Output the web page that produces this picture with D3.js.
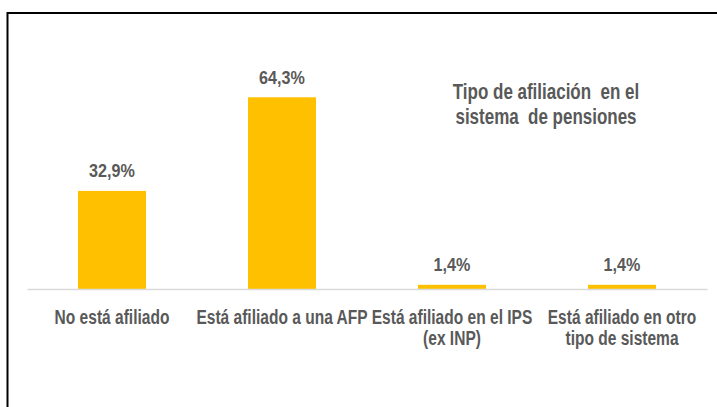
<!DOCTYPE html>
<html>
<head>
<meta charset="utf-8">
<script src="https://cdn.jsdelivr.net/npm/d3@7"></script>
<style>
  html, body { margin: 0; padding: 0; background: #fff; }
  svg text { font-family: "Liberation Sans", Arial, sans-serif; font-weight: bold; fill: #595959; white-space: pre; }
</style>
</head>
<body>
<svg id="chart" width="717" height="407"></svg>
<script>
const categories = ["No está afiliado", "Está afiliado a una AFP", "Está afiliado en el IPS\n(ex INP)", "Está afiliado en otro\ntipo de sistema"];
const values = [32.9, 64.3, 1.4, 1.4];
const valueLabels = ["32,9%", "64,3%", "1,4%", "1,4%"];
const titleLines = ["Tipo de afiliación  en el", "sistema  de pensiones"];

const svg = d3.select("#chart");

// frame
svg.append("rect").attr("x", 7.5).attr("y", 13).attr("width", 730).attr("height", 420)
  .attr("fill", "none").attr("stroke", "#000").attr("stroke-width", 2);

const x = d3.scaleBand().domain(categories).range([27, 707]).paddingInner(0.6).paddingOuter(0.3);
const y = d3.scaleLinear().domain([0, 70]).range([289, 80.3]);

svg.selectAll("rect.bar").data(values).enter().append("rect")
  .attr("class", "bar")
  .attr("x", (d, i) => x(categories[i]))
  .attr("width", x.bandwidth())
  .attr("y", d => y(d))
  .attr("height", d => y(0) - y(d))
  .attr("fill", "#FFC000");

// axis line
const axis = svg.append("g").attr("transform", `translate(0,${y(0)})`)
  .call(d3.axisBottom(x).tickSize(0).tickFormat(""));
axis.select(".domain").attr("stroke", "#d9d9d9").attr("stroke-width", 1.5);

function condensedText(cx, cy, lines, size, sx, lineH) {
  const g = svg.append("g").attr("transform", `translate(${cx},${cy}) scale(${sx},1)`);
  const t = g.append("text").attr("x", 0).attr("y", 0).attr("text-anchor", "middle").attr("font-size", size);
  lines.forEach((l, j) => {
    t.append("tspan").attr("x", 0).attr("dy", j === 0 ? 0 : lineH).text(l);
  });
}

// value labels
values.forEach((d, i) => {
  condensedText(x(categories[i]) + x.bandwidth() / 2, y(d) - 13.5, [valueLabels[i]], 19, 0.85, 0);
});

// category labels
categories.forEach((c) => {
  condensedText(x(c) + x.bandwidth() / 2, 323.5, c.split("\n"), 21, 0.74, 22);
});

// title
condensedText(546, 98.5, titleLines, 21.5, 0.79, 26);
</script>
</body>
</html>
